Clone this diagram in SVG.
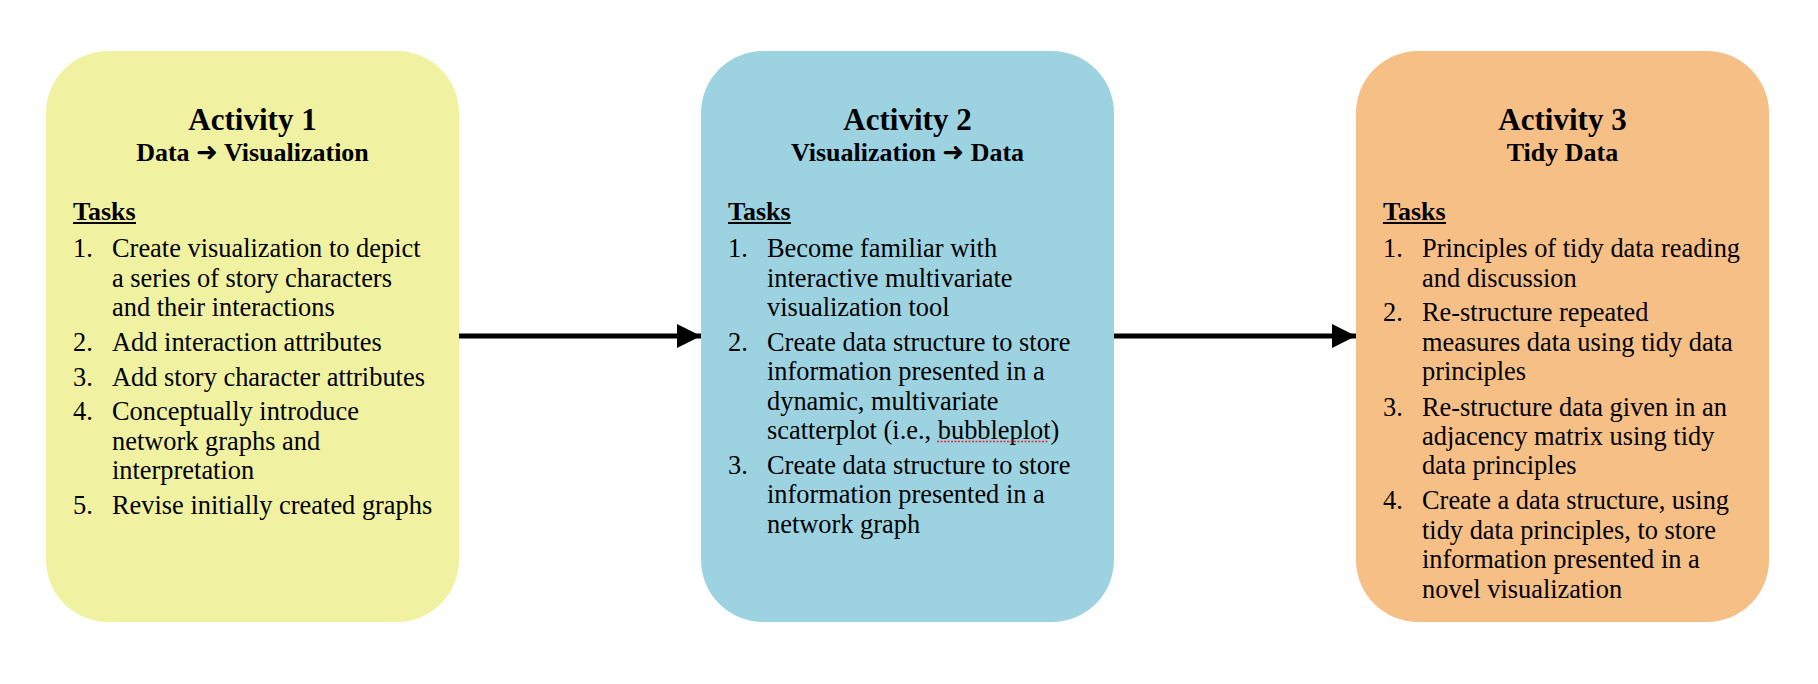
<svg xmlns="http://www.w3.org/2000/svg" width="1818" height="684" viewBox="0 0 1818 684">
<style>
.box{stroke:none}
.title{font-family:"Liberation Serif","Times New Roman",serif;font-weight:bold;font-size:31px;text-anchor:middle;fill:#000}
.sub{font-family:"Liberation Serif","Times New Roman","DejaVu Sans",serif;font-weight:bold;font-size:26px;text-anchor:middle;fill:#000}
.tasks{font-family:"Liberation Serif","Times New Roman",serif;font-weight:bold;font-size:26px;fill:#000}
.t{font-family:"Liberation Serif","Times New Roman",serif;font-size:26.4px;fill:#000}
.ul{stroke:#000;stroke-width:2}
.conn{stroke:#000;stroke-width:5;fill:none}
</style>
<defs>
<marker id="ah" markerUnits="userSpaceOnUse" markerWidth="24" markerHeight="24" refX="22" refY="11" orient="auto" viewBox="0 0 22 22">
<polygon points="0,0 22,11 0,22" fill="#000"/>
</marker>
</defs>
<rect width="1818" height="684" fill="#fff"/>

<g id="connectors">
<line class="conn" x1="459" y1="336" x2="701" y2="336" marker-end="url(#ah)"/>
<line class="conn" x1="1114" y1="336" x2="1356" y2="336" marker-end="url(#ah)"/>
</g>

<g id="activity1">
<rect class="box" x="46" y="51" width="413" height="571" rx="62" ry="62" fill="#F0F2A2"/>
<text class="title" x="252.5" y="130">Activity 1</text>
<text class="sub" x="252.5" y="161">Data ➜ Visualization</text>
<text class="tasks" x="73" y="220">Tasks</text>
<line class="ul" x1="73" y1="223" x2="136" y2="223"/>
<text class="t" x="73" y="257">1.</text>
<text class="t" x="112" y="257">Create visualization to depict</text>
<text class="t" x="112" y="286.5">a series of story characters</text>
<text class="t" x="112" y="315.5">and their interactions</text>
<text class="t" x="73" y="350.5">2.</text>
<text class="t" x="112" y="350.5">Add interaction attributes</text>
<text class="t" x="73" y="385.5">3.</text>
<text class="t" x="112" y="385.5">Add story character attributes</text>
<text class="t" x="73" y="420">4.</text>
<text class="t" x="112" y="420">Conceptually introduce</text>
<text class="t" x="112" y="449.5">network graphs and</text>
<text class="t" x="112" y="479">interpretation</text>
<text class="t" x="73" y="513.5">5.</text>
<text class="t" x="112" y="513.5">Revise initially created graphs</text>
</g>

<g id="activity2">
<rect class="box" x="701" y="51" width="413" height="571" rx="62" ry="62" fill="#9DD3E1"/>
<text class="title" x="907.5" y="130">Activity 2</text>
<text class="sub" x="907.5" y="161">Visualization ➜ Data</text>
<text class="tasks" x="728" y="220">Tasks</text>
<line class="ul" x1="728" y1="223" x2="791" y2="223"/>
<text class="t" x="728" y="257">1.</text>
<text class="t" x="767" y="257">Become familiar with</text>
<text class="t" x="767" y="286.5">interactive multivariate</text>
<text class="t" x="767" y="315.5">visualization tool</text>
<text class="t" x="728" y="350.5">2.</text>
<text class="t" x="767" y="350.5">Create data structure to store</text>
<text class="t" x="767" y="380">information presented in a</text>
<text class="t" x="767" y="409.5">dynamic, multivariate</text>
<text class="t" x="767" y="439">scatterplot (i.e., bubbleplot)</text>
<line x1="937" y1="441.5" x2="1048" y2="441.5" stroke="#E03030" stroke-width="1.5" stroke-dasharray="2,1.5"/>
<text class="t" x="728" y="474">3.</text>
<text class="t" x="767" y="474">Create data structure to store</text>
<text class="t" x="767" y="503">information presented in a</text>
<text class="t" x="767" y="532.5">network graph</text>
</g>

<g id="activity3">
<rect class="box" x="1356" y="51" width="413" height="571" rx="62" ry="62" fill="#F6BF86"/>
<text class="title" x="1562.5" y="130">Activity 3</text>
<text class="sub" x="1562.5" y="161">Tidy Data</text>
<text class="tasks" x="1383" y="220">Tasks</text>
<line class="ul" x1="1383" y1="223" x2="1446" y2="223"/>
<text class="t" x="1383" y="257">1.</text>
<text class="t" x="1422" y="257">Principles of tidy data reading</text>
<text class="t" x="1422" y="286.5">and discussion</text>
<text class="t" x="1383" y="320.5">2.</text>
<text class="t" x="1422" y="320.5">Re-structure repeated</text>
<text class="t" x="1422" y="350.5">measures data using tidy data</text>
<text class="t" x="1422" y="380">principles</text>
<text class="t" x="1383" y="415.5">3.</text>
<text class="t" x="1422" y="415.5">Re-structure data given in an</text>
<text class="t" x="1422" y="445">adjacency matrix using tidy</text>
<text class="t" x="1422" y="474">data principles</text>
<text class="t" x="1383" y="509">4.</text>
<text class="t" x="1422" y="509">Create a data structure, using</text>
<text class="t" x="1422" y="538.5">tidy data principles, to store</text>
<text class="t" x="1422" y="568">information presented in a</text>
<text class="t" x="1422" y="597.5">novel visualization</text>
</g>
</svg>
